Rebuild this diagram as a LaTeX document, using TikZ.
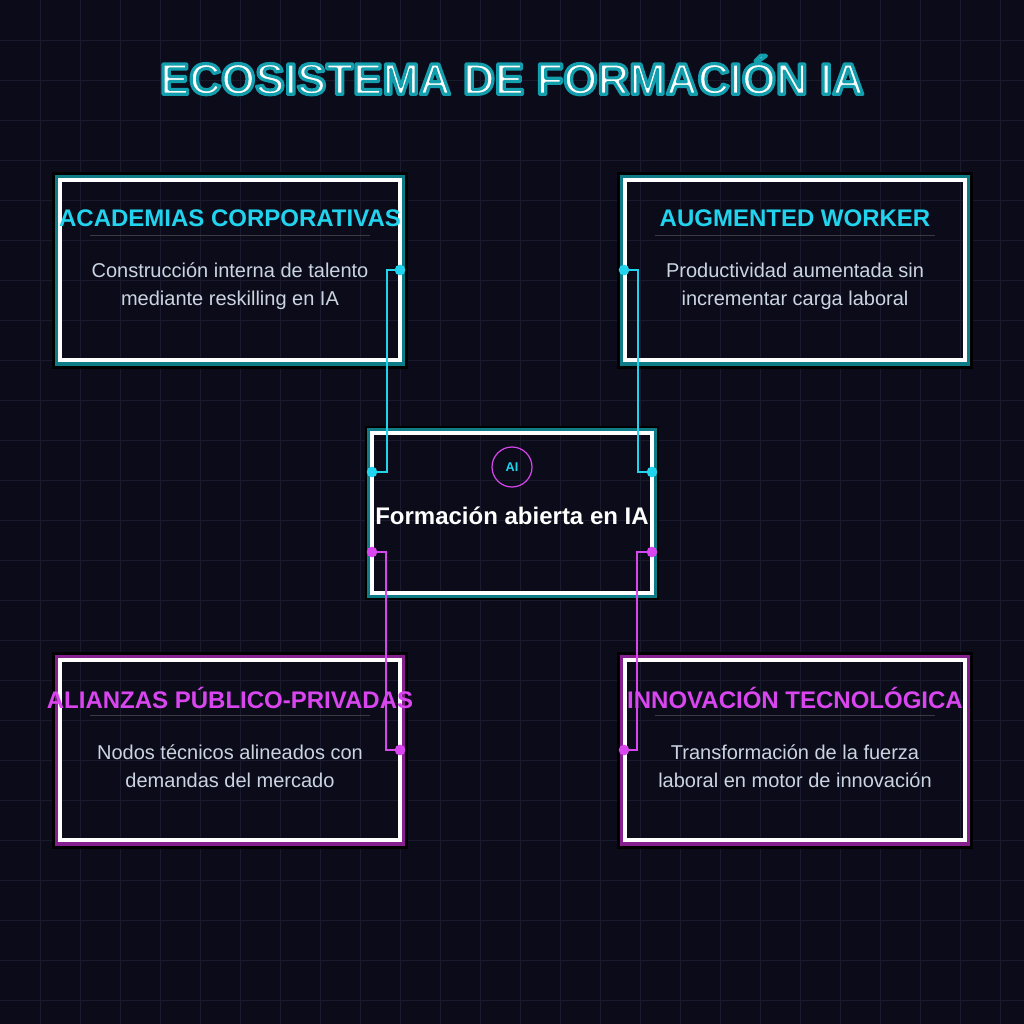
\documentclass[tikz,border=0pt]{standalone}
\usepackage{fontspec}
\setmainfont{Liberation Sans}
\usetikzlibrary{positioning}
\definecolor{bgdark}{HTML}{0B0B1A}
\definecolor{gridline}{HTML}{1A1A2E}
\definecolor{neoncyan}{HTML}{22D3EE}
\definecolor{neonpink}{HTML}{D946EF}
\definecolor{tealband}{HTML}{0E7C86}
\definecolor{pinkband}{HTML}{86208F}
\definecolor{bodygray}{HTML}{CBD5E1}
\tikzset{
  panel/.style={draw=white, line width=2.6pt, minimum width=255pt, minimum height=135pt},
  hub/.style={draw=white, line width=2.6pt, minimum width=210pt, minimum height=120pt},
  headtext/.style={font=\bfseries\fontsize{18}{20}\selectfont},
  bodytext/.style={text=bodygray, align=center, font=\fontsize{15}{21}\selectfont},
  dot/.style={circle, fill=#1, inner sep=0pt, minimum size=8pt},
  link/.style={#1, line width=1pt}
}
% outlined title text
\newcommand{\outlined}[1]{\special{pdf:code 2 Tr 2.4 w 1 j 0.07 0.62 0.68 RG}#1\special{pdf:code 0 Tr}}
% panel title, rule and body
\newcommand{\panelinfo}[6]{%
  \node[headtext, text=#4] (#1-head) at (#2,#3-52) {#5};
  \draw[gray!40!bgdark, line width=0.6pt] (#2-140,#3-35) -- (#2+140,#3-35);
  \node[bodytext] (#1-body) at (#2,#3+16) {#6};
}
\begin{document}
\begin{tikzpicture}[x=0.75pt,y=-0.75pt]
\fill[bgdark] (0,0) rectangle (1024,1024);
\useasboundingbox (0,0) rectangle (1024,1024);
\foreach \g in {40,80,...,1000}{
  \draw[gridline, line width=0.6pt] (\g,0) -- (\g,1024);
  \draw[gridline, line width=0.6pt] (0,\g) -- (1024,\g);
}

% title
\node[text=white, font=\bfseries\fontsize{33}{35}\selectfont] (title) at (512,75) {\outlined{ECOSISTEMA DE FORMACIÓN IA}};

% panel frames
\foreach \cx/\cy/\band in {230/270/tealband, 795/270/tealband, 230/750/pinkband, 795/750/pinkband}{
  \draw[black, line width=3pt] (\cx-176,\cy-96) rectangle (\cx+176,\cy+97);
  \draw[\band, line width=4pt] (\cx-172,\cy-92) rectangle (\cx+172,\cy+93);
}
\draw[black, line width=3pt] (367,428) rectangle (657,598);
\draw[tealband, line width=4pt] (369.5,430.5) rectangle (654.5,595.5);

\node[panel] (acad) at (230,270) {};
\node[panel] (worker) at (795,270) {};
\node[panel] (alianza) at (230,750) {};
\node[panel] (innov) at (795,750) {};
\node[hub] (hub) at (512,513) {};

% panel texts
\panelinfo{acad}{230}{270}{neoncyan}{ACADEMIAS CORPORATIVAS}{Construcción interna de talento\\mediante reskilling en IA}
\panelinfo{worker}{795}{270}{neoncyan}{AUGMENTED WORKER}{Productividad aumentada sin\\incrementar carga laboral}
\panelinfo{alianza}{230}{750}{neonpink}{ALIANZAS PÚBLICO-PRIVADAS}{Nodos técnicos alineados con\\demandas del mercado}
\panelinfo{innov}{795}{750}{neonpink}{INNOVACIÓN TECNOLÓGICA}{Transformación de la fuerza\\laboral en motor de innovación}

% hub content
\node[circle, draw=neonpink, line width=0.9pt, minimum size=30pt, text=neoncyan,
  font=\bfseries\fontsize{9.5}{10}\selectfont] (ai) at (512,467) {AI};
\node[text=white, font=\bfseries\fontsize{18}{20}\selectfont] (hubtitle) at (512,516) {Formación abierta en IA};

% connector ends
\node[dot=neoncyan] (a1) at (400,270) {};
\node[dot=neoncyan] (a2) at (372,472) {};
\node[dot=neoncyan] (w1) at (624,270) {};
\node[dot=neoncyan] (w2) at (652,472) {};
\node[dot=neonpink] (p1) at (372,552) {};
\node[dot=neonpink] (p2) at (400,750) {};
\node[dot=neonpink] (i1) at (652,552) {};
\node[dot=neonpink] (i2) at (624,750) {};

% connectors
\draw[link=neoncyan] (a1.center) -- (387,270) -- (387,472) -- (a2.center);
\draw[link=neoncyan] (w1.center) -- (638,270) -- (638,472) -- (w2.center);
\draw[link=neonpink] (p1.center) -- (386,552) -- (386,750) -- (p2.center);
\draw[link=neonpink] (i1.center) -- (637,552) -- (637,750) -- (i2.center);
\end{tikzpicture}
\end{document}
